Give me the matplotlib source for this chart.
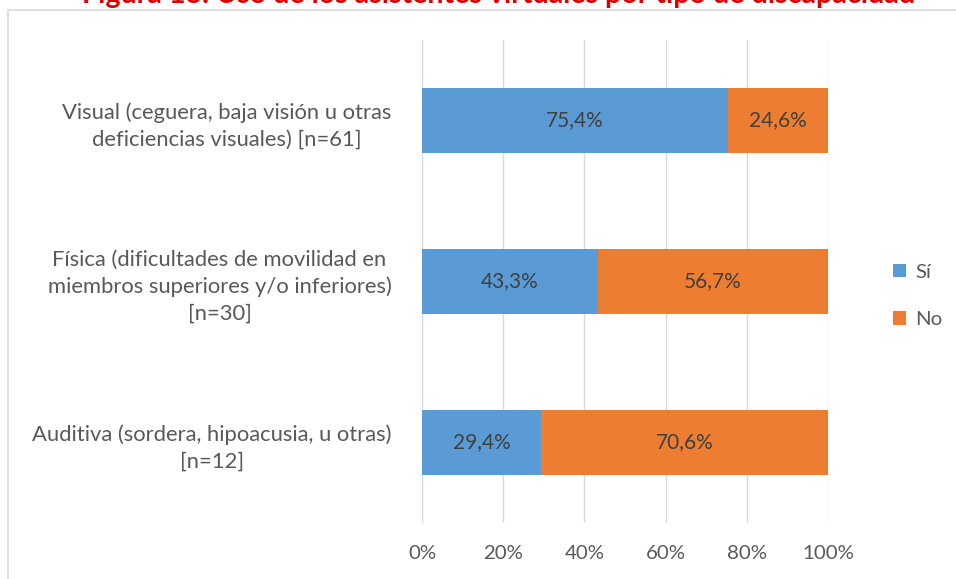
import matplotlib
matplotlib.use("Agg")
import matplotlib.pyplot as plt
from matplotlib.patches import Rectangle

plt.rcParams["font.family"] = ["Lato", "DejaVu Sans"]

categories = [
    "Visual (ceguera, baja visión u otras\ndeficiencias visuales) [n=61]",
    "Física (dificultades de movilidad en\nmiembros superiores y/o inferiores)\n[n=30]",
    "Auditiva (sordera, hipoacusia, u otras)\n[n=12]",
]
si_values = [75.4, 43.3, 29.4]
no_values = [24.6, 56.7, 70.6]
series_labels = ["Sí", "No"]
x_ticks = [0, 20, 40, 60, 80, 100]
title = "Figura 13. Uso de los asistentes virtuales por tipo de discapacidad"

blue = "#5B9BD5"
orange = "#ED7D31"
text_gray = "#595959"
grid_gray = "#D9D9D9"

fig = plt.figure(figsize=(9.56, 5.79), dpi=100)
ax = fig.add_axes([0.4414, 0.0967, 0.4247, 0.8342])

# outer chart frame (cut by the image edges)
fig.patches.append(Rectangle((8 / 956, -0.05), 1.0, 1 - 10 / 579 + 0.05,
                             transform=fig.transFigure, fill=False,
                             edgecolor=grid_gray, linewidth=1.2))

ypos = list(range(len(categories)))
bars_si = ax.barh(ypos, si_values, height=0.4, color=blue, label=series_labels[0], zorder=3)
bars_no = ax.barh(ypos, no_values, left=si_values, height=0.4, color=orange,
                  label=series_labels[1], zorder=3)

for bars in (bars_si, bars_no):
    ax.bar_label(bars, labels=[f"{b.get_width():.1f}%".replace(".", ",") for b in bars],
                 label_type="center", color="#404040", fontsize=15)

ax.set_xlim(0, 100)
ax.set_ylim(2.5, -0.5)
ax.set_xticks(x_ticks)
ax.set_xticklabels([f"{t}%" for t in x_ticks])
ax.set_yticks(ypos)
ax.set_yticklabels(categories, multialignment="center", linespacing=1.4)
ax.tick_params(axis="x", length=0, pad=16, labelsize=14.7, labelcolor=text_gray)
ax.tick_params(axis="y", length=0, pad=22, labelsize=15.8, labelcolor=text_gray)
ax.grid(axis="x", color=grid_gray, linewidth=1, zorder=0)
for s in ax.spines.values():
    s.set_visible(False)

fig.text(0.522, 1 - 2.5 / 579, title, ha="center", va="baseline", fontsize=20.6,
         fontweight="bold", color="#DD0000")

ax.legend(loc="center left", bbox_to_anchor=(0.934, 0.489), bbox_transform=fig.transFigure,
          frameon=False, handlelength=0.65, handleheight=0.65, handletextpad=0.45,
          labelspacing=1.5, borderpad=0, borderaxespad=0, fontsize=14.7,
          labelcolor=text_gray)

fig.savefig("out.png", dpi=100)
